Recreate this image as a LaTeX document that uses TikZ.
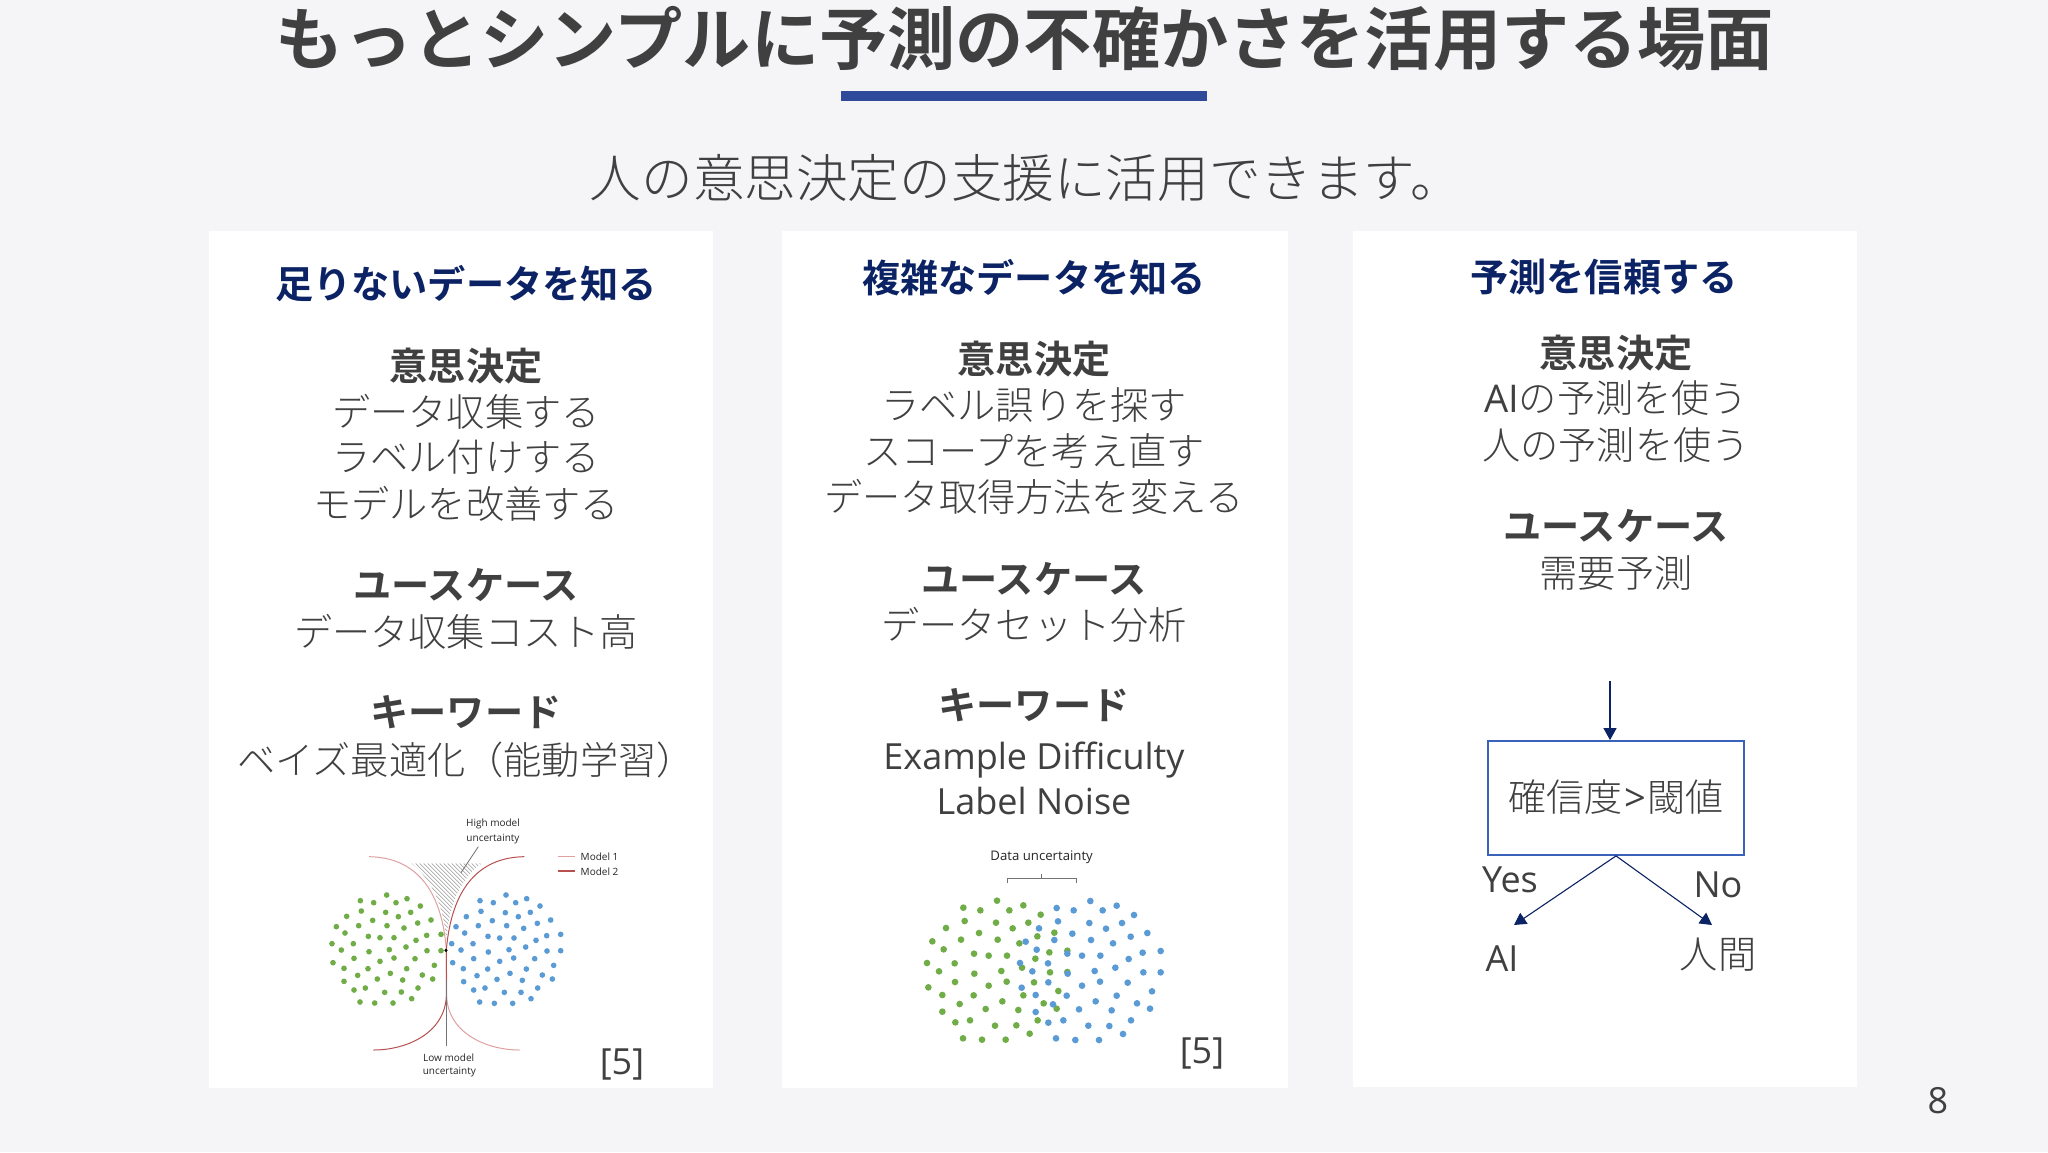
\documentclass[tikz,border=0pt]{standalone}
\usepackage{fontspec}
\setmainfont{Noto Sans CJK JP}
\newfontfamily\jpr{Noto Sans CJK JP Light}
\newfontfamily\jpb{Noto Sans CJK JP Medium}
\newfontfamily\jpt{Noto Sans CJK JP Bold}
\newfontfamily\ens{Open Sans}
\newfontfamily\ent{Open Sans}
\definecolor{bg}{HTML}{F5F5F8}
\definecolor{ink}{HTML}{404040}
\definecolor{navy}{HTML}{0B2265}
\definecolor{bar}{HTML}{2F4A9A}
\definecolor{boxblue}{HTML}{3A62B8}
\definecolor{dotg}{HTML}{70AD47}
\definecolor{dotb}{HTML}{5B9BD5}
\definecolor{mone}{HTML}{DFA0A0}
\definecolor{mtwo}{HTML}{B85050}
\newcommand{\fs}[1]{\fontsize{#1}{#1}\selectfont}
\usetikzlibrary{arrows.meta}
\tikzset{
 card/.style={fill=white,draw=none},
 txt/.style={text=ink,inner sep=0pt,anchor=center,text height=16pt,text depth=2.3pt,font=\jpr\fs{19.1}},
 head/.style={txt,text=navy,font=\jpt\fs{19.1}},
 sub/.style={txt,font=\jpt\fs{19.1}},
 en/.style={txt,font=\ens\fs{18}},
 tiny/.style={text=black!85,inner sep=0pt,anchor=center,font=\ent\fs{5}},
 conn/.style={draw=navy,line width=0.55pt,-{Triangle[length=6pt,width=6.5pt]}},
}
\begin{document}
\begin{tikzpicture}[x=0.5pt,y=-0.5pt]
\useasboundingbox (0,0) rectangle (2048,1152);
\fill[bg] (0,0) rectangle (2048,1152);
\fill[card] (209,231) rectangle (713,1088);
\fill[card] (782,231) rectangle (1288,1088);
\fill[card] (1353,231) rectangle (1857,1087);
\node[txt,text height=29pt,text depth=4pt,font=\jpt\fs{34.1}] (title) at (1025,39) {もっとシンプルに予測の不確かさを活用する場面};
\fill[bar] (841,91) rectangle (1207,101);
\node[txt,text height=22pt,text depth=3pt,font=\jpr\fs{25.8}] (subtitle) at (1026,178) {人の意思決定の支援に活用できます。};

% column 1
\node[head] (a0) at (466,285) {足りないデータを知る};
\node[sub] (a1) at (466,367) {意思決定};
\node[txt] (a2) at (466,413) {データ収集する};
\node[txt] (a3) at (466,458) {ラベル付けする};
\node[txt] (a4) at (466,505) {モデルを改善する};
\node[sub] (a5) at (466,586) {ユースケース};
\node[txt] (a6) at (466,633) {データ収集コスト高};
\node[sub] (a7) at (466,713) {キーワード};
\node[txt] (a8) at (466,761) {ベイズ最適化（能動学習）};

% column 2
\node[head] (b0) at (1034,279) {複雑なデータを知る};
\node[sub] (b1) at (1034,360) {意思決定};
\node[txt] (b2) at (1034,406) {ラベル誤りを探す};
\node[txt] (b3) at (1034,452) {スコープを考え直す};
\node[txt] (b4) at (1034,498) {データ取得方法を変える};
\node[sub] (b5) at (1034,580) {ユースケース};
\node[txt] (b6) at (1034,626) {データセット分析};
\node[sub] (b7) at (1034,706) {キーワード};
\node[en] (b8) at (1034,756) {Example Difficulty};
\node[en] (b9) at (1034,801) {Label Noise};

% column 3
\node[head] (c0) at (1604,278) {予測を信頼する};
\node[sub] (c1) at (1616,354) {意思決定};
\node[txt] (c2) at (1616,399) {{\ens AI}の予測を使う};
\node[txt] (c3) at (1616,446) {人の予測を使う};
\node[sub] (c4) at (1616,527) {ユースケース};
\node[txt] (c5) at (1616,574) {需要予測};

% decision
\node[txt,draw=boxblue,line width=0.9pt,minimum width=128pt,minimum height=57pt,font=\jpr\fs{19}] (box) at (1616,798) {確信度{\ent\kern1pt>\kern1pt}閾値};
\coordinate (entry) at (1610,681);
\draw[conn] (entry) -- (entry |- box.north);
\node[en] (yes) at (1510,879) {Yes};
\node[en] (no) at (1718,884) {No};
\node[en] (ai) at (1502,958) {AI};
\node[txt] (human) at (1718,955) {人間};
\draw[conn] (box.south) -- ([shift={(12,-33)}]ai.center);
\draw[conn] (box.south) -- ([shift={(-6,-30)}]human.center);

\node[en,font=\ens\fs{18}] (r1) at (622,1061) {[5]};
\node[en,font=\ens\fs{18}] (r2) at (1202,1050) {[5]};
\node[en] (page) at (1938,1100) {8};

% left plot
\begin{scope}[shift={(300,800)},scale=1/3]
 \begin{scope}
  \clip (335,190) .. controls (395,240) and (430,310) .. (439,420) .. controls (448,310) and (480,240) .. (545,190) -- cycle;
  \foreach \k in {-360,-348,...,240} \draw[gray!80,line width=0.25pt] (\k+335,190) -- (\k+635,490);
 \end{scope}
 \draw[mone,line width=0.5pt] (207,170) .. controls (340,172) and (425,260) .. (439,450) -- (440,590) .. controls (445,700) and (560,750) .. (659,750);
 \draw[mtwo,line width=0.5pt] (673,170) .. controls (540,172) and (455,260) .. (439,450) -- (439,590) .. controls (433,700) and (320,750) .. (220,750);
 \draw[gray!90!black,line width=0.5pt] (440,540) -- (440,738);
 \draw[gray!90!black,line width=0.4pt] (535,140) -- (483,218);
 \fill[black] (438,451) circle[radius=5];
 \foreach \p in {(181,302),(221,308),(260,285),(288,308),(321,296),(361,318),(184,333),(257,337),(295,350),(332,337),(140,349),(218,361),(393,360),(353,369),(109,380),(176,377),(261,377),(312,384),(135,399),(205,409),(240,413),(282,413),(380,406),(423,403),(348,421),(96,431),(160,431),(124,450),(207,455),(268,449),(318,441),(381,452),(423,452),(162,475),(282,474),(345,476),(240,484),(99,488),(132,505),(204,506),(320,506),(403,496),(173,526),(271,520),(367,525),(132,544),(232,537),(308,540),(398,537),(162,570),(196,564),(254,577),(304,576),(354,564),(335,596),(180,606),(224,609),(279,609)}
  \fill[dotg] \p circle[radius=8.5];
 \foreach \p in {(540,302),(580,308),(618,285),(647,308),(680,296),(720,318),(543,334),(616,338),(655,350),(691,337),(499,350),(577,362),(752,360),(712,370),(468,380),(535,377),(620,377),(671,385),(494,399),(564,409),(599,414),(642,414),(740,407),(782,403),(708,421),(455,431),(519,431),(483,450),(565,456),(627,449),(677,441),(741,453),(782,452),(521,476),(641,474),(704,476),(599,484),(458,488),(490,506),(563,507),(679,507),(761,496),(531,527),(630,520),(727,525),(491,545),(591,538),(667,541),(757,537),(521,570),(555,564),(613,577),(663,577),(713,564),(693,596),(539,606),(583,610),(638,610)}
  \fill[dotb] \p circle[radius=8.5];
 \draw[mone,line width=0.5pt] (775,170) -- (825,170);
 \draw[mtwo,line width=0.8pt] (775,213) -- (825,213);
 \node[tiny,anchor=west] (m1) at (841,171) {Model 1};
 \node[tiny,anchor=west] (m2) at (841,214) {Model 2};
 \node[tiny] (hi1) at (579,71) {High model};
 \node[tiny] (hi2) at (579,116) {uncertainty};
 \node[tiny] (lo1) at (446,772) {Low model};
 \node[tiny] (lo2) at (448,815) {uncertainty};
\end{scope}

% middle plot
\begin{scope}[shift={(900,840)},scale=1/3]
 \foreach \p in {(291,182),(190,203),(241,211),(328,211),(370,196),(422,224),(194,243),(288,248),(385,248),(138,264),(237,279),(338,265),(463,278),(97,304),(183,299),(293,299),(412,289),(358,310),(131,328),(222,341),(266,347),(321,347),(448,337),(502,332),(406,356),(81,369),(164,370),(366,383),(117,394),(223,401),(304,393),(450,397),(502,396),(165,426),(320,425),(402,427),(266,437),(85,442),(127,465),(221,466),(370,466),(475,453),(179,492),(307,484),(431,490),(127,515),(257,507),(355,510),(470,506),(166,547),(210,541),(285,557),(349,556),(413,541),(389,581),(189,595),(246,599),(317,599)}
  \fill[dotg] \p circle[radius=10];
 \foreach \p in {(571,183),(470,204),(521,211),(608,211),(650,197),(702,225),(474,244),(568,249),(666,249),(417,265),(618,266),(742,279),(517,281),(377,305),(463,300),(573,300),(692,290),(639,310),(410,329),(502,341),(546,347),(601,347),(728,338),(782,333),(686,357),(360,369),(444,370),(646,383),(397,394),(503,401),(584,393),(730,397),(782,397),(445,427),(600,425),(683,428),(546,437),(365,443),(407,465),(500,467),(650,467),(756,454),(459,493),(587,484),(711,490),(407,516),(537,508),(635,511),(750,506),(445,548),(490,541),(565,557),(628,558),(693,541),(669,582),(468,595),(526,600),(597,600)}
  \fill[dotb] \p circle[radius=10];
 \draw[gray!90!black,line width=0.4pt] (321,128) -- (321,116) -- (530,116) -- (530,128) (425,116) -- (425,102);
 \node[tiny,font=\ent\fs{6.6}] (du) at (425,52) {Data uncertainty};
\end{scope}
\end{tikzpicture}
\end{document}
